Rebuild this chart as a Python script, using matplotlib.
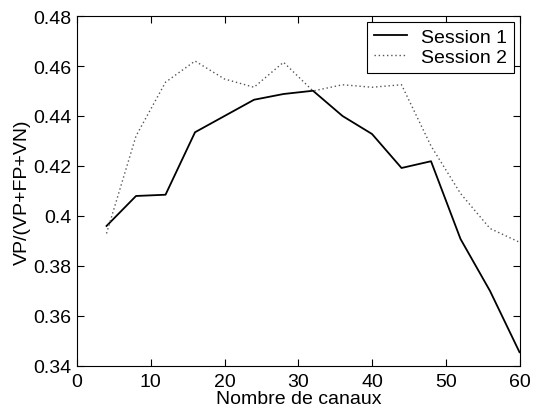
import numpy as np
import matplotlib
matplotlib.use("Agg")
import matplotlib.pyplot as plt

# nombre de canaux
canaux = [4, 8, 12, 16, 20, 24, 28, 32, 36, 40, 44, 48, 52, 56, 60]
session1 = [0.396, 0.408, 0.4085, 0.4335, 0.440, 0.4465, 0.4488, 0.4501, 0.440, 0.4328,
            0.4192, 0.4219, 0.3908, 0.370, 0.3455]
session2 = [0.393, 0.432, 0.4535, 0.462, 0.4548, 0.4515, 0.4615, 0.4500, 0.4525, 0.4515,
            0.4525, 0.428, 0.409, 0.395, 0.3895]

xticks = [0, 10, 20, 30, 40, 50, 60]
yticks = [0.34, 0.36, 0.38, 0.40, 0.42, 0.44, 0.46, 0.48]
ylabels = ["0.34", "0.36", "0.38", "0.4", "0.42", "0.44", "0.46", "0.48"]

plt.rcParams['font.family'] = ['Liberation Sans', 'DejaVu Sans']
plt.rcParams['font.size'] = 14

fig = plt.figure(figsize=(5.33, 4.10), dpi=100)
ax = fig.add_axes([0.1445, 0.105, 0.8302, 0.8535])

ax.plot(canaux, session1, color='black', linewidth=1.3, linestyle='-', label='Session 1')
ax.plot(canaux, session2, color='#555555', linewidth=1.0, linestyle=(0, (1, 2)), label='Session 2')

ax.set_xlim(0, 60)
ax.set_ylim(0.34, 0.48)
ax.set_xticks(xticks)
ax.set_yticks(yticks)
ax.set_yticklabels(ylabels)
ax.tick_params(direction='in', top=True, right=True, length=5, width=0.8)
ax.tick_params(axis='x', pad=5)
ax.tick_params(axis='y', pad=4)
for s in ax.spines.values():
    s.set_linewidth(0.8)

ax.set_xlabel('Nombre de canaux', labelpad=0)
ax.set_ylabel('VP/(VP+FP+VN)', labelpad=2)

leg = ax.legend(loc='upper right', fancybox=False, framealpha=1, edgecolor='black',
                borderaxespad=0.3, handlelength=1.7, handletextpad=0.7,
                borderpad=0.35, labelspacing=0.1)
leg.get_frame().set_linewidth(0.8)

fig.savefig('out.png', dpi=100)
